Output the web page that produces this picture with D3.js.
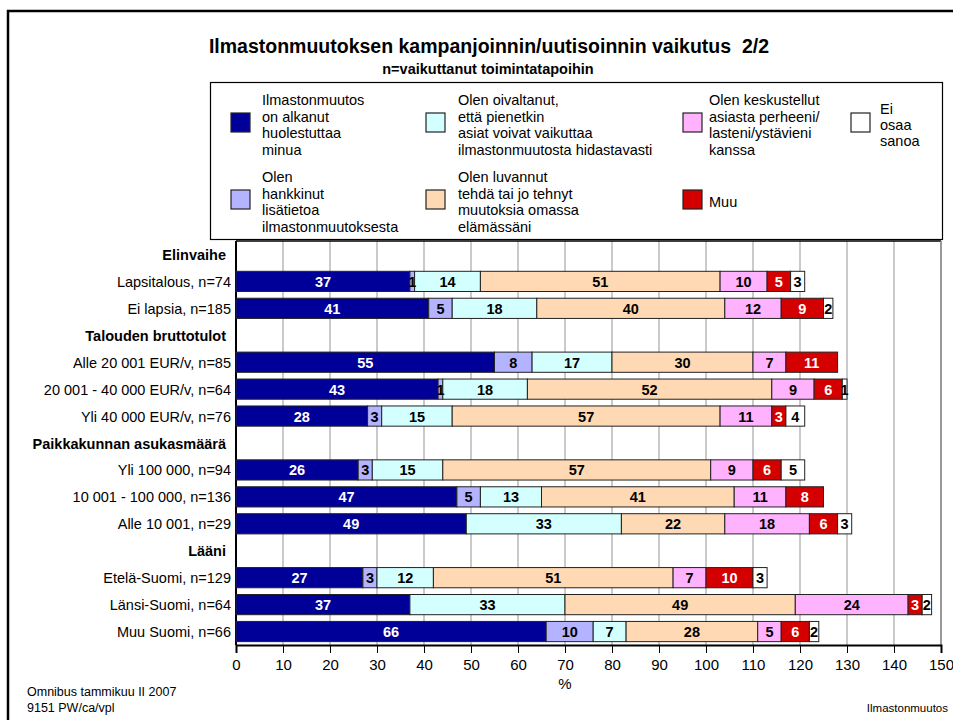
<!DOCTYPE html>
<html lang="fi">
<head>
<meta charset="UTF-8" />
<title>Ilmastonmuutoksen kampanjoinnin/uutisoinnin vaikutus 2/2</title>
<style>
  body { margin: 0; background: #fff; }
  svg { font-family: "Liberation Sans", Arial, sans-serif; display: block; }
</style>
</head>
<body>
<div id="app"></div>
<script src="https://cdn.jsdelivr.net/npm/d3@7"></script>
<script>
// rows: headers have no values
const rowLabels = [
  "Elinvaihe", "Lapsitalous, n=74", "Ei lapsia, n=185",
  "Talouden bruttotulot", "Alle 20 001 EUR/v, n=85", "20 001 - 40 000 EUR/v, n=64", "Yli 40 000 EUR/v, n=76",
  "Paikkakunnan asukasmäärä", "Yli 100 000, n=94", "10 001 - 100 000, n=136", "Alle 10 001, n=29",
  "Lääni", "Etelä-Suomi, n=129", "Länsi-Suomi, n=64", "Muu Suomi, n=66"
];
const headerRows = ["Elinvaihe", "Talouden bruttotulot", "Paikkakunnan asukasmäärä", "Lääni"];

const seriesNames = [
  "Ilmastonmuutos on alkanut huolestuttaa minua",
  "Olen hankkinut lisätietoa ilmastonmuutoksesta",
  "Olen oivaltanut, että pienetkin asiat voivat vaikuttaa ilmastonmuutosta hidastavasti",
  "Olen luvannut tehdä tai jo tehnyt muutoksia omassa elämässäni",
  "Olen keskustellut asiasta perheeni/lasteni/ystävieni kanssa",
  "Muu",
  "Ei osaa sanoa"
];
const seriesColors = ["#000099", "#b3b3ff", "#d4ffff", "#ffd9b3", "#ffb3ff", "#d40000", "#ffffff"];
const seriesTextColors = ["#fff", "#000", "#000", "#000", "#000", "#fff", "#000"];

// values per series, in the order of rowLabels (null = header row)
const huolestuttaa = [null, 37, 41, null, 55, 43, 28, null, 26, 47, 49, null, 27, 37, 66];
const lisatietoa   = [null,  1,  5, null,  8,  1,  3, null,  3,  5,  0, null,  3,  0, 10];
const oivaltanut   = [null, 14, 18, null, 17, 18, 15, null, 15, 13, 33, null, 12, 33,  7];
const luvannut     = [null, 51, 40, null, 30, 52, 57, null, 57, 41, 22, null, 51, 49, 28];
const keskustellut = [null, 10, 12, null,  7,  9, 11, null,  9, 11, 18, null,  7, 24,  5];
const muu          = [null,  5,  9, null, 11,  6,  3, null,  6,  8,  6, null, 10,  3,  6];
const eiOsaa       = [null,  3,  2, null,  0,  1,  4, null,  5,  0,  3, null,  3,  2,  2];
const seriesValues = [huolestuttaa, lisatietoa, oivaltanut, luvannut, keskustellut, muu, eiOsaa];

const xTicks = [0, 10, 20, 30, 40, 50, 60, 70, 80, 90, 100, 110, 120, 130, 140, 150];

// legend layout: [series index, column, row, text lines]
const legendItems = [
  [0, 0, 0, ["Ilmastonmuutos", "on alkanut", "huolestuttaa", "minua"]],
  [2, 1, 0, ["Olen oivaltanut,", "että pienetkin", "asiat voivat vaikuttaa", "ilmastonmuutosta hidastavasti"]],
  [4, 2, 0, ["Olen keskustellut", "asiasta perheeni/", "lasteni/ystävieni", "kanssa"]],
  [6, 3, 0, ["Ei", "osaa", "sanoa"]],
  [1, 0, 1, ["Olen", "hankkinut", "lisätietoa", "ilmastonmuutoksesta"]],
  [3, 1, 1, ["Olen luvannut", "tehdä tai jo tehnyt", "muutoksia omassa", "elämässäni"]],
  [5, 2, 1, ["Muu"]]
];

const W = 953, H = 720;
const FS = 14.5;
const svg = d3.select("#app").append("svg").attr("width", W).attr("height", H);

// outer frame
svg.append("path")
  .attr("d", "M8,960 L8,11 L960,11")
  .attr("fill", "none").attr("stroke", "#000").attr("stroke-width", 2.5);

svg.append("text").attr("x", 489).attr("y", 53).attr("text-anchor", "middle")
  .attr("font-size", 19.5).attr("font-weight", "bold")
  .text("Ilmastonmuutoksen kampanjoinnin/uutisoinnin vaikutus\u00a0\u00a02/2");
svg.append("text").attr("x", 488).attr("y", 74).attr("text-anchor", "middle")
  .attr("font-size", 14.5).attr("font-weight", "bold")
  .text("n=vaikuttanut toimintatapoihin");

// scales
const x = d3.scaleLinear().domain([0, 150]).range([236, 941]);
const y = d3.scaleBand().domain(rowLabels).range([241, 645]).paddingInner(0.25).paddingOuter(0.125);

// plot area
const plot = svg.append("g");
plot.selectAll("line.grid").data(xTicks.slice(1)).enter().append("line")
  .attr("class", "grid")
  .attr("x1", d => x(d)).attr("x2", d => x(d))
  .attr("y1", 241).attr("y2", 645)
  .attr("stroke", "#b8b8b8").attr("stroke-width", 1.5);
plot.append("line").attr("x1", x(0)).attr("x2", x(150)).attr("y1", 241).attr("y2", 241)
  .attr("stroke", "#000").attr("stroke-width", 1.5);
plot.append("line").attr("x1", x(150)).attr("x2", x(150)).attr("y1", 241).attr("y2", 645)
  .attr("stroke", "#888").attr("stroke-width", 1.5);
plot.append("line").attr("x1", x(0)).attr("x2", x(0)).attr("y1", 241).attr("y2", 645)
  .attr("stroke", "#000").attr("stroke-width", 2);

// stacked segments
const segs = [];
rowLabels.forEach((r, i) => {
  if (headerRows.includes(r)) return;
  let acc = 0;
  seriesValues.forEach((vals, s) => {
    const v = vals[i];
    if (v > 0) segs.push({ row: r, s: s, x0: acc, x1: acc + v, v: v });
    acc += v;
  });
});

const bars = svg.append("g");
bars.selectAll("rect").data(segs).enter().append("rect")
  .attr("x", d => x(d.x0))
  .attr("y", d => y(d.row))
  .attr("width", d => x(d.x1) - x(d.x0))
  .attr("height", y.bandwidth())
  .attr("fill", d => seriesColors[d.s])
  .attr("stroke", "#222").attr("stroke-width", 1);
bars.selectAll("text").data(segs).enter().append("text")
  .attr("x", d => (x(d.x0) + x(d.x1)) / 2)
  .attr("y", d => y(d.row) + y.bandwidth() / 2 + 5.5)
  .attr("text-anchor", "middle")
  .attr("font-size", FS).attr("font-weight", "bold")
  .attr("fill", d => seriesTextColors[d.s])
  .text(d => d.v);

// row labels
svg.append("g").selectAll("text").data(rowLabels).enter().append("text")
  .attr("x", d => headerRows.includes(d) ? 226 : 231)
  .attr("y", d => y(d) + y.bandwidth() / 2 + 5.5)
  .attr("text-anchor", "end")
  .attr("font-size", FS)
  .attr("font-weight", d => headerRows.includes(d) ? "bold" : "normal")
  .text(d => d);

// x axis
const xAxis = d3.axisBottom(x).tickValues(xTicks).tickSize(8).tickPadding(6);
const gx = svg.append("g").attr("transform", "translate(0,645)").call(xAxis);
gx.select(".domain").attr("stroke-width", 2);
gx.selectAll("text").attr("font-size", 15).attr("font-family", "Liberation Sans, Arial, sans-serif");
svg.append("text").attr("x", 565).attr("y", 689).attr("text-anchor", "middle")
  .attr("font-size", 15).text("%");

// legend
const lg = svg.append("g");
lg.append("rect").attr("x", 210.5).attr("y", 82.5).attr("width", 732).attr("height", 157)
  .attr("fill", "#fff").attr("stroke", "#000").attr("stroke-width", 1.2);
const colSwatch = [231, 426, 683, 851];
const colText = [262, 458, 709, 880];
const rowMid = [125, 202];
const lineH = 16.4;
legendItems.forEach(([s, c, r, lines]) => {
  const mid = rowMid[r];
  lg.append("rect").attr("x", colSwatch[c]).attr("y", mid - 12)
    .attr("width", 19).attr("height", 19)
    .attr("fill", seriesColors[s]).attr("stroke", "#222").attr("stroke-width", 1.2);
  const t = lg.append("text").attr("font-size", FS);
  lines.forEach((ln, k) => {
    t.append("tspan").attr("x", colText[c])
      .attr("y", mid + (k - (lines.length - 1) / 2) * lineH + 5)
      .text(ln);
  });
});

// footer
svg.append("text").attr("x", 27).attr("y", 696).attr("font-size", 12.5).text("Omnibus tammikuu II 2007");
svg.append("text").attr("x", 27).attr("y", 712).attr("font-size", 12.5).text("9151 PW/ca/vpl");
svg.append("text").attr("x", 948).attr("y", 712).attr("text-anchor", "end").attr("font-size", 11.5).text("Ilmastonmuutos");
</script>
</body>
</html>
